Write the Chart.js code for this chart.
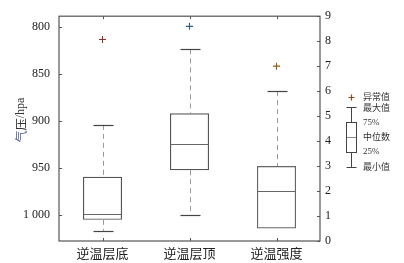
<!DOCTYPE html>
<html><head><meta charset="utf-8">
<script src="https://cdn.jsdelivr.net/npm/chart.js@4"></script>
<style>html,body{margin:0;padding:0;background:#fff}#wrap{width:404px;height:263px}</style>
</head><body><div id="wrap"><canvas id="c" width="404" height="263"></canvas></div>
<script>
const categories = ['逆温层底', '逆温层顶', '逆温强度'];
const axisOf = ['y', 'y', 'y2'];
const upperWhisker = [904, 823.8, 6];
const boxTop = [959.3, 891.8, 3];
const median = [998.6, 924.8, 2];
const boxBottom = [1005, 952.2, 0.5];
const lowerWhisker = [1016.6, 999.7, 0.5];
const outliers = [813.3, 799.3, 7];
const pressureTicks = [800, 850, 900, 950, 1000];
const intensityTicks = [0, 1, 2, 3, 4, 5, 6, 7, 8, 9];
const legendLabels = ['异常值', '最大值', '75%', '中位数', '25%', '最小值'];

const serif = '"Liberation Serif", "Noto Sans CJK SC", serif';
const cjk = '"Noto Sans CJK SC", "Liberation Serif", serif';

function pick(arr, ax) { return arr.map((v, i) => axisOf[i] === ax ? v : null); }
function boxes(ax) { return boxTop.map((v, i) => axisOf[i] === ax ? [v, boxBottom[i]] : null); }

const boxPlugin = {
  id: 'boxExtras',
  beforeDatasetsDraw(chart) {
    const ctx = chart.ctx, x = chart.scales.x;
    ctx.save();
    categories.forEach((c, i) => {
      const s = chart.scales[axisOf[i]];
      const cx = Math.round(x.getPixelForValue(i)) + 0.5;
      const yBT = s.getPixelForValue(boxTop[i]), yBB = s.getPixelForValue(boxBottom[i]);
      const yU = s.getPixelForValue(upperWhisker[i]), yL = s.getPixelForValue(lowerWhisker[i]);
      ctx.strokeStyle = '#9a9a9a'; ctx.lineWidth = 1; ctx.setLineDash([5, 4]);
      ctx.beginPath(); ctx.moveTo(cx, yU); ctx.lineTo(cx, yBT); ctx.stroke();
      if (Math.abs(yL - yBB) > 1) { ctx.beginPath(); ctx.moveTo(cx, yBB); ctx.lineTo(cx, yL); ctx.stroke(); }
      ctx.setLineDash([]);
      ctx.strokeStyle = '#444'; ctx.lineWidth = 1.2;
      ctx.beginPath(); ctx.moveTo(cx - 10, Math.round(yU) + 0.5); ctx.lineTo(cx + 10, Math.round(yU) + 0.5); ctx.stroke();
      if (Math.abs(yL - yBB) > 1) { ctx.beginPath(); ctx.moveTo(cx - 10, Math.round(yL) + 0.5); ctx.lineTo(cx + 10, Math.round(yL) + 0.5); ctx.stroke(); }
    });
    ctx.restore();
  },
  afterDatasetsDraw(chart) {
    const ctx = chart.ctx, x = chart.scales.x, a = chart.chartArea;
    ctx.save();
    categories.forEach((c, i) => {
      const s = chart.scales[axisOf[i]];
      const cx = x.getPixelForValue(i);
      const ym = Math.round(s.getPixelForValue(median[i])) + 0.5;
      ctx.strokeStyle = '#666'; ctx.lineWidth = 1;
      ctx.beginPath(); ctx.moveTo(cx - 19.5, ym); ctx.lineTo(cx + 19.5, ym); ctx.stroke();
    });
    // frame
    ctx.strokeStyle = '#555'; ctx.lineWidth = 1.2;
    ctx.strokeRect(a.left, a.top, a.right - a.left, a.bottom - a.top);
    // inward ticks
    ctx.lineWidth = 1; ctx.strokeStyle = '#555';
    const ys = chart.scales.y, y2 = chart.scales.y2;
    pressureTicks.forEach(v => { const p = Math.round(ys.getPixelForValue(v)) + 0.5; ctx.beginPath(); ctx.moveTo(a.left, p); ctx.lineTo(a.left + 3, p); ctx.stroke(); });
    intensityTicks.forEach(v => { const p = Math.round(y2.getPixelForValue(v)) + 0.5; ctx.beginPath(); ctx.moveTo(a.right, p); ctx.lineTo(a.right - 3, p); ctx.stroke(); });
    categories.forEach((c, i) => { const p = Math.round(x.getPixelForValue(i)) + 0.5;
      ctx.beginPath(); ctx.moveTo(p, a.top); ctx.lineTo(p, a.top + 3); ctx.stroke();
      ctx.beginPath(); ctx.moveTo(p, a.bottom); ctx.lineTo(p, a.bottom - 3); ctx.stroke(); });
    // y title
    ctx.save();
    ctx.translate(21, 120); ctx.rotate(-Math.PI / 2);
    ctx.textBaseline = 'middle'; ctx.textAlign = 'left';
    ctx.font = '12px ' + cjk;
    const t1 = '气', t2 = '压', t3 = '/hpa';
    ctx.font = '12px ' + cjk; const w1 = ctx.measureText(t1).width, w2 = ctx.measureText(t2).width;
    ctx.font = '12px ' + serif; const w3 = ctx.measureText(t3).width;
    let sx = -(w1 + w2 + w3) / 2;
    ctx.font = '12px ' + cjk; ctx.fillStyle = '#4a5fa8'; ctx.fillText(t1, sx, 0); sx += w1;
    ctx.fillStyle = '#333'; ctx.fillText(t2, sx, 0); sx += w2;
    ctx.font = '12px ' + serif; ctx.fillText(t3, sx, 0);
    ctx.restore();
    // legend
    const lx = 351.5;
    ctx.strokeStyle = '#444'; ctx.lineWidth = 1;
    ctx.beginPath(); ctx.moveTo(lx, 107.5); ctx.lineTo(lx, 122.5); ctx.moveTo(lx, 152.5); ctx.lineTo(lx, 167.5);
    ctx.moveTo(lx - 5, 107.5); ctx.lineTo(lx + 5, 107.5); ctx.moveTo(lx - 5, 167.5); ctx.lineTo(lx + 5, 167.5); ctx.stroke();
    ctx.strokeRect(346.5, 122.5, 10, 30);
    ctx.strokeStyle = '#888'; ctx.beginPath(); ctx.moveTo(347, 137.5); ctx.lineTo(356, 137.5); ctx.stroke();
    ctx.strokeStyle = '#8a4a14'; ctx.lineWidth = 1.2;
    ctx.beginPath(); ctx.moveTo(lx - 3, 97.5); ctx.lineTo(lx + 3, 97.5); ctx.moveTo(lx, 94.5); ctx.lineTo(lx, 100.5); ctx.stroke();
    ctx.fillStyle = '#333'; ctx.textAlign = 'left'; ctx.textBaseline = 'middle';
    const ly = [97, 108, 123, 137, 152, 167];
    legendLabels.forEach((t, i) => { ctx.font = (/%/.test(t) ? '9px ' + serif : '9px ' + cjk); ctx.fillText(t, 363, ly[i]); });
    ctx.restore();
  }
};

new Chart(document.getElementById('c'), {
  type: 'bar',
  data: {
    labels: categories,
    datasets: [
      { type: 'bar', data: boxes('y'), yAxisID: 'y', grouped: false, backgroundColor: 'rgba(255,255,255,0)', borderColor: '#555', borderWidth: 1.2, borderSkipped: false, barPercentage: 0.45, categoryPercentage: 1 },
      { type: 'bar', data: boxes('y2'), yAxisID: 'y2', grouped: false, backgroundColor: 'rgba(255,255,255,0)', borderColor: '#666', borderWidth: 1.2, borderSkipped: false, barPercentage: 0.45, categoryPercentage: 1 },
      { type: 'line', data: pick(outliers, 'y'), yAxisID: 'y', showLine: false, pointStyle: 'cross', pointRadius: 3.5, borderWidth: 1.1, pointBorderColor: ['#9a3020', '#2a5d8a'], pointHoverRadius: 3.5 },
      { type: 'line', data: pick(outliers, 'y2'), yAxisID: 'y2', showLine: false, pointStyle: 'cross', pointRadius: 3.5, borderWidth: 1.1, pointBorderColor: '#9a5a10', pointHoverRadius: 3.5 }
    ]
  },
  options: {
    responsive: false, animation: false, events: [],
    layout: { padding: { left: 0, right: 64, top: 15, bottom: 0 } },
    plugins: { legend: { display: false }, tooltip: { enabled: false } },
    scales: {
      x: { offset: true, grid: { display: false, drawTicks: false }, border: { display: false },
        ticks: { color: '#222', font: { family: cjk, size: 13 }, padding: 4 },
        afterFit: s => { s.height = 22; } },
      y: { position: 'left', reverse: true, min: 788.5, max: 1027.5,
        grid: { display: false, drawTicks: false }, border: { display: false },
        afterBuildTicks: s => { s.ticks = pressureTicks.map(v => ({ value: v })); },
        ticks: { color: '#222', font: { family: serif, size: 12 }, padding: 9,
          callback: v => v >= 1000 ? String(v).replace(/(\d)(\d{3})$/, '$1 $2') : String(v) },
        afterFit: s => { s.width = 59; } },
      y2: { position: 'right', min: 0, max: 9,
        grid: { display: false, drawTicks: false }, border: { display: false },
        afterBuildTicks: s => { s.ticks = intensityTicks.map(v => ({ value: v })); },
        ticks: { color: '#222', font: { family: serif, size: 12 }, padding: 5 },
        afterFit: s => { s.width = 20; } }
    }
  },
  plugins: [boxPlugin]
});
</script></body></html>
